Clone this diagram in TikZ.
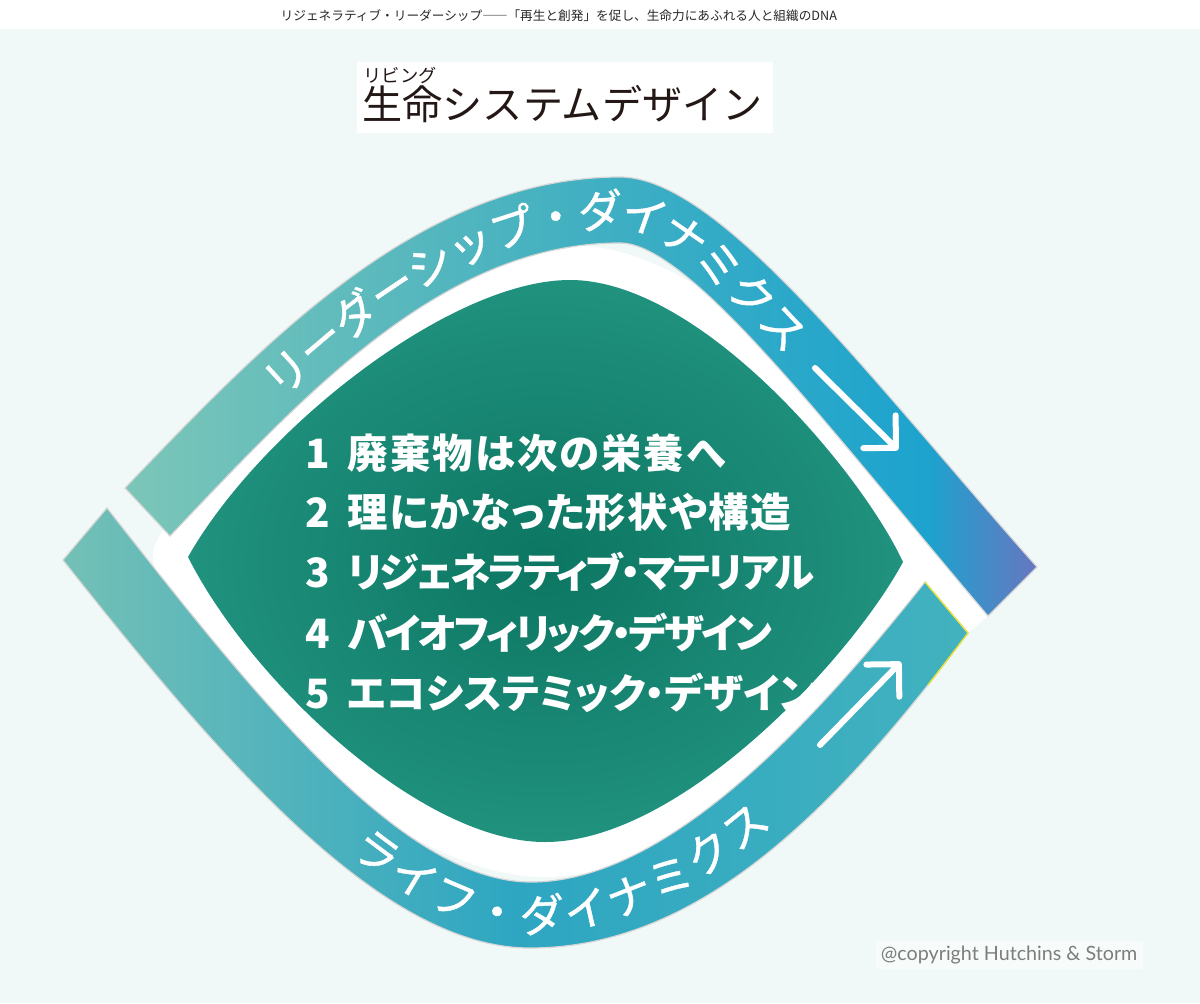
\documentclass[tikz,border=0pt]{standalone}
\usepackage{fontspec}
\usepackage{xcolor}
\usepackage{tikz}
\usetikzlibrary{arrows.meta}
\usetikzlibrary{decorations.text}
\newfontfamily\jpfont{Noto Sans CJK JP}
\newfontfamily\bandfont{Noto Sans CJK JP}[FakeBold=1]
\newfontfamily\jplist{Noto Sans CJK JP}[RawFeature=+palt]
\newfontfamily\creditfont{Lato}
\definecolor{mint}{RGB}{240,249,247}
\definecolor{inkblack}{RGB}{35,24,21}
\definecolor{headgray}{RGB}{40,40,40}
\definecolor{creditgray}{RGB}{125,125,125}
\definecolor{lenslight}{RGB}{32,146,126}
\definecolor{lensdark}{RGB}{12,118,98}
\definecolor{bandpale}{RGB}{124,198,184}
\definecolor{bandteal}{RGB}{72,178,192}
\definecolor{bandblue}{RGB}{28,163,206}
\definecolor{bandviolet}{RGB}{104,118,192}
\definecolor{lowpale}{RGB}{116,192,182}
\definecolor{lowcyan}{RGB}{46,166,194}
\definecolor{lowteal}{RGB}{66,178,190}
\definecolor{edgeyellow}{RGB}{236,226,40}
\pgfdeclarehorizontalshading{upperwash}{100bp}{color(0bp)=(bandpale); color(25bp)=(bandpale); color(47bp)=(bandteal); color(69bp)=(bandblue); color(75bp)=(bandviolet); color(100bp)=(bandviolet)}
\pgfdeclarehorizontalshading{lowerwash}{100bp}{color(0bp)=(lowpale); color(25bp)=(lowpale); color(50bp)=(lowcyan); color(75bp)=(lowteal); color(100bp)=(lowteal)}
\newcommand{\lensedge}{(188,557) .. controls (260,430) and (450,280) .. (570,280) .. controls (700,280) and (860,470) .. (903,562) .. controls (850,660) and (680,842) .. (545,842) .. controls (420,842) and (250,680) .. (188,557) -- cycle}
\newcommand{\upperband}{(125,488) .. controls (263,344) and (420,177) .. (620,177) .. controls (720,177) and (871,380) .. (1037,567) -- (988,616) .. controls (830,430) and (690,243) .. (620,243) .. controls (440,243) and (300,400) .. (170,536) -- cycle}
\newcommand{\lowerband}{(63,560) .. controls (218,756) and (380,948) .. (530,948) .. controls (700,948) and (836,809) .. (968,633) -- (925,582) .. controls (800,740) and (660,882) .. (531,882) .. controls (400,882) and (250,690) .. (107,508) -- cycle}

\begin{document}
\begin{tikzpicture}[x=0.01cm,y=-0.01cm]
\tikzset{>={Straight Barb[length=2.3mm,width=4.6mm,round]}}
\tikzstyle{arrowline}=[->,white,line width=0.6mm,line cap=round]
\tikzstyle{bandrim}=[draw=black!16,line width=0.12mm]
\tikzstyle{listline}=[anchor=west,inner sep=0pt,text=white,font=\jplist\bfseries\fontsize{11.5pt}{13pt}\selectfont]
\tikzstyle{bandtext}=[decorate,decoration={text along path,raise=-1.7mm,text color=white}]
\useasboundingbox (0,0) rectangle (1200,1003);
\fill[white] (0,0) rectangle (1200,29);
\fill[mint] (0,29) rectangle (1200,1003);
\fill[white] (357,62) rectangle (773,133);

\node[anchor=west,inner sep=0pt,text=headgray,font=\jpfont\fontsize{3.6pt}{4pt}\selectfont] (header) at (280,16) {リジェネラティブ・リーダーシップ――「再生と創発」を促し、生命力にあふれる人と組織のDNA};
\node[anchor=west,inner sep=0pt,text=inkblack,font=\jpfont\fontsize{11.4pt}{13pt}\selectfont] (title) at (362,104) {生命システムデザイン};
\node[anchor=west,inner sep=0pt,text=inkblack,font=\jpfont\fontsize{5.2pt}{6pt}\selectfont] (ruby) at (363,75) {リビング};

\fill[white,draw=white,line width=7mm,line join=round] \lensedge;
\fill[white] (895,540) -- (943,560) -- (988,616) -- (968,633) -- (925,582) -- (890,585) -- cycle;
\shade[bandrim,shading=upperwash] \upperband;
\shade[bandrim,shading=lowerwash] \lowerband;
\draw[edgeyellow,line width=0.12mm] (928,685) -- (968,633) -- (925,582);
\shade[inner color=lensdark,outer color=lenslight] \lensedge;

\path[bandtext,decoration={text align={left indent=1.75cm},text={|\bandfont\fontsize{12.8pt}{14pt}\selectfont|リーダーシップ・ダイナミクス}}] (147,512) .. controls (281,372) and (430,210) .. (620,210) .. controls (705,210) and (850,405) .. (1012,592);
\path[bandtext,decoration={text align={left indent=4.1cm},text={|\bandfont\fontsize{12.8pt}{14pt}\selectfont|ライフ・ダイナミクス}}] (85,534) .. controls (234,723) and (390,915) .. (531,915) .. controls (680,915) and (818,775) .. (946,608);

\coordinate (upfrom) at (815,368);
\coordinate (upto) at (898,450);
\coordinate (lowfrom) at (820,745);
\coordinate (lowto) at (901,662);
\draw[arrowline] (upfrom) -- (upto);
\draw[arrowline] (lowfrom) -- (lowto);

\node[listline] (item1) at (305,453) {\addfontfeatures{LetterSpace=5}\makebox[4.2mm][l]{1}廃棄物は次の栄養へ};
\node[listline] (item2) at (305,512) {\addfontfeatures{LetterSpace=3}\makebox[4.2mm][l]{2}理にかなった形状や構造};
\node[listline] (item3) at (305,572) {\addfontfeatures{LetterSpace=-6}\makebox[4.2mm][l]{3}リジェネラティブ・マテリアル};
\node[listline] (item4) at (305,633) {\addfontfeatures{LetterSpace=-7}\makebox[4.2mm][l]{4}バイオフィリック・デザイン};
\node[listline] (item5) at (305,693) {\makebox[4.2mm][l]{5}エコシステミック・デザイン};

\node[anchor=west,fill=white,fill opacity=0.5,text opacity=1,inner sep=1.5pt,text=creditgray,font=\creditfont\fontsize{5.6pt}{7pt}\selectfont] (credit) at (875,955) {@copyright Hutchins \& Storm};
\end{tikzpicture}
\end{document}
